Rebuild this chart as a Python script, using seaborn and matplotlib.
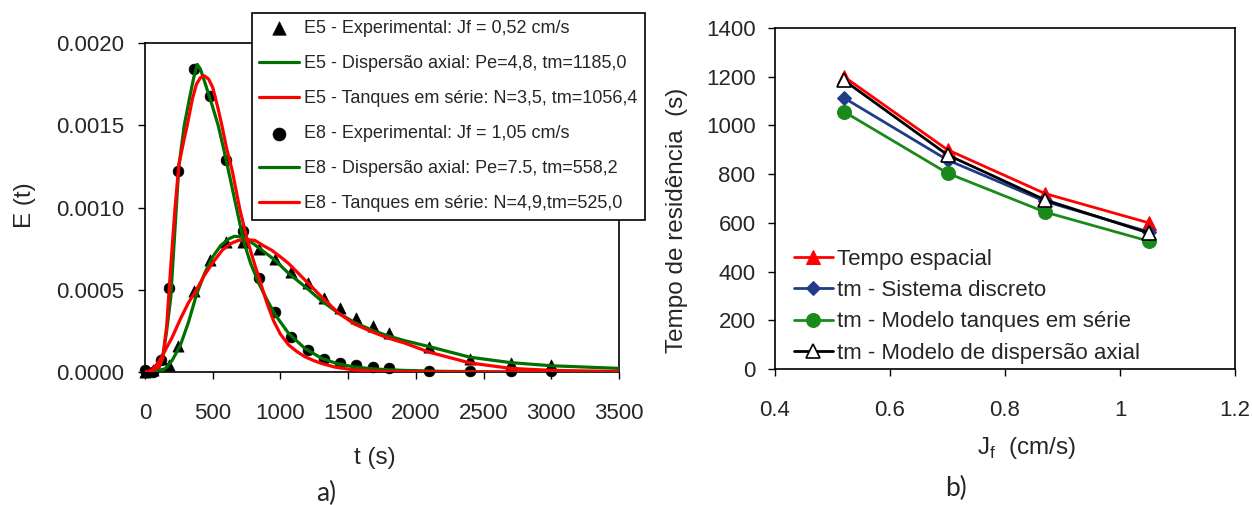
"""
    Curvas de DTR (E(t)) para E5 e E8 e tempos de residencia vs Jf.
"""

import matplotlib
matplotlib.use("Agg")
from matplotlib import pyplot as plt
import seaborn as sns

# ---- painel a) pontos experimentais ----
t_exp = [0, 60, 120, 180, 240, 360, 480, 600, 720, 840, 960, 1080, 1200,
         1320, 1440, 1560, 1680, 1800, 2100, 2400, 2700, 3000]
e5_exp = [0, 0.00001, 0.00008, 0.00004, 0.00016, 0.00049, 0.00068, 0.00079,
          0.00079, 0.00075, 0.000685, 0.00061, 0.00054, 0.00045, 0.00039,
          0.00033, 0.00028, 0.000235, 0.000155, 0.00008, 0.000055, 0.00004]
e8_exp = [0.00001, 0, 0.00007, 0.00051, 0.00122, 0.00184, 0.00168, 0.00129,
          0.00086, 0.00057, 0.000365, 0.000215, 0.000134, 0.000078, 0.000057,
          0.000043, 0.000032, 0.000022, 0.000006, 0.000005, 0.000005, 0.000005]

# ---- painel a) curvas dos modelos (lidas do grafico) ----
t5_disp = [0, 50, 100, 150, 200, 260, 320, 380, 440, 500, 560, 620, 660, 720,
           800, 880, 960, 1060, 1180, 1300, 1430, 1550, 1680, 1800, 1920, 2100,
           2400, 2700, 3000, 3500]
e5_disp = [0, 0, 0.00001, 0.00002, 0.00007, 0.00016, 0.0003, 0.00047, 0.0006,
           0.0007, 0.00077, 0.00081, 0.000825, 0.00082, 0.00078, 0.00073,
           0.00068, 0.0006, 0.00052, 0.000435, 0.000357, 0.0003, 0.000253,
           0.000218, 0.00019, 0.000154, 0.00009, 0.000057, 0.000038, 0.000022]

t5_tan = [0, 50, 100, 135, 200, 260, 320, 380, 440, 505, 570, 630, 690, 750,
          812, 870, 936, 1000, 1060, 1180, 1300, 1430, 1550, 1680, 1800, 1920,
          2100, 2400, 2700, 3000, 3500]
e5_tan = [0, 0.00001, 0.00006, 0.00011, 0.00021, 0.00032, 0.00042, 0.0005,
          0.00059, 0.00067, 0.00074, 0.00078, 0.0008, 0.000805, 0.0008,
          0.00077, 0.00074, 0.0007, 0.00066, 0.00056, 0.00046, 0.000357,
          0.00029, 0.000243, 0.000205, 0.000175, 0.00012, 0.000055, 0.000022,
          0.00001, 0.000003]

t8_disp = [0, 60, 100, 130, 160, 190, 220, 250, 290, 330, 360, 386, 410, 450,
           500, 540, 580, 620, 680, 730, 780, 840, 900, 960, 1060, 1180, 1300,
           1420, 1550, 1700, 1900, 2200, 2600, 3000, 3500]
e8_disp = [0, 0, 0.00002, 0.00008, 0.00025, 0.00045, 0.00085, 0.00125, 0.0015,
           0.00167, 0.00179, 0.00187, 0.00184, 0.00174, 0.00161, 0.0015,
           0.00136, 0.00121, 0.00098, 0.00079, 0.00066, 0.00054, 0.00044,
           0.00035, 0.000235, 0.000144, 0.000085, 0.00005, 0.00003, 0.000018,
           0.00001, 0.000004, 0.000001, 0, 0]

t8_tan = [0, 50, 100, 130, 160, 190, 220, 250, 290, 312, 350, 380, 410, 440,
          470, 500, 540, 570, 600, 645, 700, 750, 800, 850, 900, 950, 1000,
          1060, 1120, 1180, 1250, 1300, 1400, 1550, 1700, 1900, 2200, 3500]
e8_tan = [0, 0.000005, 0.00003, 0.00008, 0.00028, 0.00064, 0.00098, 0.00126,
          0.00142, 0.0015, 0.00166, 0.00175, 0.00179, 0.0018, 0.00178, 0.00173,
          0.0016, 0.00149, 0.00137, 0.00122, 0.00099, 0.00082, 0.00068,
          0.00055, 0.00042, 0.00031, 0.00023, 0.000165, 0.000125, 0.000093,
          0.000068, 0.000053, 0.00003, 0.000012, 0.000005, 0.000002, 0, 0]

# ---- painel b) tempos de residencia ----
jf = [0.52, 0.70, 0.87, 1.05]
tempo_espacial = [1200, 900, 720, 600]
tm_discreto = [1113, 858, 688, 563]
tm_tanques = [1056.4, 804, 644, 525.0]
tm_dispersao = [1185.0, 879, 694, 558.2]

labels_a = ["E5 - Experimental: Jf = 0,52 cm/s",
            "E5 - Dispersão axial: Pe=4,8, tm=1185,0",
            "E5 - Tanques em série: N=3,5, tm=1056,4",
            "E8 - Experimental: Jf = 1,05 cm/s",
            "E8 - Dispersão axial: Pe=7.5, tm=558,2",
            "E8 - Tanques em série: N=4,9,tm=525,0"]
labels_b = ["Tempo espacial", "tm - Sistema discreto",
            "tm - Modelo tanques em série", "tm - Modelo de dispersão axial"]

sns.set_style("ticks")
plt.rcParams["font.family"] = ["Liberation Sans", "DejaVu Sans"]
plt.rcParams["mathtext.fontset"] = "custom"
plt.rcParams["mathtext.rm"] = "Liberation Sans"
plt.rcParams["xtick.direction"] = "out"
plt.rcParams["ytick.direction"] = "out"

GREEN = "#007000"
RED = "#ff0000"
W, H = 1252, 505

fig = plt.figure(figsize=(12.52, 5.05), dpi=100)
ax1 = fig.add_axes([145 / W, 1 - 372 / H, 474 / W, 329 / H])
ax2 = fig.add_axes([775 / W, 1 - 369 / H, 460 / W, 341 / H])

# ---------------- painel a) ----------------
sns.scatterplot(x=t_exp, y=e5_exp, ax=ax1, marker="^", s=65, color="black",
                edgecolor="black", linewidth=0.5, zorder=2, clip_on=False,
                label=labels_a[0])
sns.scatterplot(x=t_exp, y=e8_exp, ax=ax1, marker="o", s=60, color="black",
                edgecolor="black", linewidth=0.5, zorder=2, clip_on=False,
                label=labels_a[3])
for tt, ee, col, lab in [(t5_disp, e5_disp, GREEN, labels_a[1]),
                         (t5_tan, e5_tan, RED, labels_a[2]),
                         (t8_disp, e8_disp, GREEN, labels_a[4]),
                         (t8_tan, e8_tan, RED, labels_a[5])]:
    sns.lineplot(x=tt, y=ee, ax=ax1, color=col, linewidth=2.3, sort=False,
                 estimator=None, zorder=3, label=lab)

ax1.set_xlim(0, 3500)
ax1.set_ylim(0, 0.002)
ax1.set_xticks(range(0, 3501, 500))
ax1.set_yticks([0, 0.0005, 0.001, 0.0015, 0.002])
ax1.set_yticklabels([f"{v:.4f}" for v in [0, 0.0005, 0.001, 0.0015, 0.002]])
ax1.tick_params(labelsize=16, length=5, width=1, color="black")
ax1.tick_params(axis="x", pad=17)
ax1.tick_params(axis="y", pad=10)
ax1.set_xlabel("t (s)", fontsize=17.5)
ax1.set_ylabel("E (t)", fontsize=17.5)
ax1.xaxis.set_label_coords(0.485, -0.261)
ax1.xaxis.label.set_verticalalignment("center")
ax1.yaxis.set_label_coords(-0.253, 0.508)
ax1.yaxis.label.set_verticalalignment("center")
for sp in ax1.spines.values():
    sp.set_color("black")
    sp.set_linewidth(1.2)

handles, labels = ax1.get_legend_handles_labels()
order = [labels.index(l) for l in labels_a]
leg = ax1.legend([handles[i] for i in order], labels_a, loc="upper left",
                 bbox_to_anchor=(252 / W, 1 - 13 / H),
                 bbox_transform=fig.transFigure, fontsize=13, frameon=True,
                 fancybox=False, edgecolor="black", framealpha=1,
                 borderpad=0.4, handlelength=2.2, handletextpad=0.3,
                 labelspacing=1.0, borderaxespad=0, markerscale=1.2)
leg.get_frame().set_linewidth(1.2)
leg.set_zorder(10)

# ---------------- painel b) ----------------
sns.lineplot(x=jf, y=tempo_espacial, ax=ax2, color=RED, linewidth=2.0,
             marker="^", markersize=10, markeredgecolor=RED, label=labels_b[0])
sns.lineplot(x=jf, y=tm_discreto, ax=ax2, color="#1f3c88", linewidth=2.0,
             marker="D", markersize=7, markeredgecolor="#1f3c88",
             label=labels_b[1])
sns.lineplot(x=jf, y=tm_tanques, ax=ax2, color="#1a8a1a", linewidth=2.0,
             marker="o", markersize=10, markeredgecolor="#1a8a1a",
             label=labels_b[2])
sns.lineplot(x=jf, y=tm_dispersao, ax=ax2, color="black", linewidth=2.0,
             marker="^", markersize=10, markerfacecolor="white",
             markeredgecolor="black", markeredgewidth=1.2, label=labels_b[3])

ax2.set_xlim(0.4, 1.2)
ax2.set_ylim(0, 1400)
ax2.set_xticks([0.4, 0.6, 0.8, 1.0, 1.2])
ax2.set_xticklabels(["0.4", "0.6", "0.8", "1", "1.2"])
ax2.set_yticks(range(0, 1401, 200))
ax2.tick_params(labelsize=16, length=5, width=1, color="black")
ax2.tick_params(axis="x", pad=17)
ax2.tick_params(axis="y", pad=9)
ax2.set_xlabel("J$_{\\mathrm{f}}$  (cm/s)", fontsize=17.5)
ax2.set_ylabel("Tempo de residência  (s)", fontsize=17.5)
ax2.xaxis.set_label_coords(0.546, -0.232)
ax2.xaxis.label.set_verticalalignment("center")
ax2.yaxis.set_label_coords(-0.213, 0.437)
ax2.yaxis.label.set_verticalalignment("center")
for sp in ax2.spines.values():
    sp.set_color("black")
    sp.set_linewidth(1.2)

ax2.legend(loc="upper left", bbox_to_anchor=(0.041, 0.352), frameon=False,
           fontsize=16, handlelength=1.75, handletextpad=0.2,
           labelspacing=0.46, borderaxespad=0, borderpad=0)

# legendas dos paineis
fig.text(326 / W, 1 - 493 / H, "a)", fontsize=19, ha="center", va="center",
         family=["Lato", "DejaVu Sans"])
fig.text(956 / W, 1 - 488 / H, "b)", fontsize=19, ha="center", va="center",
         family=["Lato", "DejaVu Sans"])

fig.savefig("out.png", dpi=100)
